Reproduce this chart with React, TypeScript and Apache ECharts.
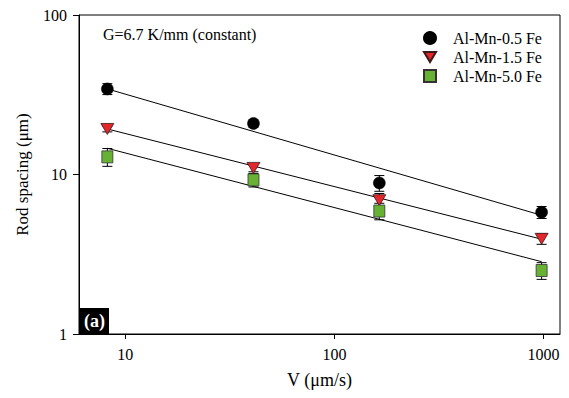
import React, { useEffect, useRef } from "react";
import * as echarts from "echarts";

const velocity = [8.2, 41, 164, 980];
const spacing05 = [34.4, 20.9, 8.85, 5.8];
const err05 = [2.7, 1.1, 1.0, 0.5];
const spacing15 = [19.3, 11.0, 6.9, 3.95];
const err15 = [0.8, 0.6, 0.7, 0.3];
const spacing50 = [12.9, 9.25, 5.9, 2.5];
const err50 = [1.65, 0.9, 0.7, 0.3];

const fitV = [8.2, 980];
const fit05 = [34.4, 5.55];
const fit15 = [19.3, 3.93];
const fit50 = [14.6, 2.84];

const seriesNames = ["Al-Mn-0.5 Fe", "Al-Mn-1.5 Fe", "Al-Mn-5.0 Fe"];
const xTicks = [10, 100, 1000];

const FONT = "serif";

function pairs(xs: number[], ys: number[]) {
  return xs.map((x, i) => [x, ys[i]]);
}
function errData(xs: number[], ys: number[], es: number[]) {
  return xs.map((x, i) => [x, ys[i] - es[i], ys[i] + es[i]]);
}

const errorRender = (params: any, api: any) => {
  const x = api.value(0);
  const lo = api.coord([x, api.value(1)]);
  const hi = api.coord([x, api.value(2)]);
  const w = 5;
  const st = { stroke: "#000", lineWidth: 1 };
  return {
    type: "group",
    children: [
      { type: "line", shape: { x1: lo[0], y1: lo[1], x2: hi[0], y2: hi[1] }, style: st },
      { type: "line", shape: { x1: lo[0] - w, y1: lo[1], x2: lo[0] + w, y2: lo[1] }, style: st },
      { type: "line", shape: { x1: hi[0] - w, y1: hi[1], x2: hi[0] + w, y2: hi[1] }, style: st },
    ],
  };
};

const triDown = "path://M0,0 L12,0 L6,10 Z";

export default function App() {
  const ref = useRef<HTMLDivElement>(null);
  useEffect(() => {
    document.body.style.margin = "0";
    const chart = echarts.init(ref.current!, null, { renderer: "svg" });
    const lineStyle = { color: "#000", width: 1 };
    chart.setOption({
      animation: false,
      backgroundColor: "#fff",
      textStyle: { fontFamily: FONT },
      grid: {
        left: 79,
        top: 15,
        right: 9,
        bottom: 64,
        show: true,
        borderColor: "#000",
        borderWidth: 1,
      },
      legend: {
        orient: "vertical",
        left: 418,
        top: 25,
        itemWidth: 12,
        itemHeight: 12,
        itemGap: 3,
        data: [
          { name: seriesNames[0], icon: "circle" },
          { name: seriesNames[1], icon: triDown },
          { name: seriesNames[2], icon: "rect" },
        ],
        textStyle: {
          fontFamily: FONT,
          fontSize: 16,
          color: "#000",
          lineHeight: 16,
          padding: [0, 0, 0, 12],
        },
      },
      xAxis: {
        type: "log",
        logBase: 10,
        min: 6,
        max: 1200,
        name: "V (μm/s)",
        nameLocation: "middle",
        nameGap: 37,
        nameTextStyle: { fontFamily: FONT, fontSize: 18, color: "#000" },
        axisLine: { show: true, lineStyle: { color: "#000", width: 1 } },
        axisTick: { show: true, length: 5, customValues: xTicks, lineStyle: { color: "#000" } },
        axisLabel: {
          customValues: xTicks,
          fontFamily: FONT,
          fontSize: 16,
          color: "#000",
          margin: 12,
          formatter: (v: number) => String(Math.round(v)),
        },
        splitLine: { show: false },
        minorTick: { show: false },
      },
      yAxis: {
        type: "log",
        logBase: 10,
        min: 1,
        max: 100,
        name: "Rod spacing (μm)",
        nameLocation: "middle",
        nameGap: 48,
        nameTextStyle: { fontFamily: FONT, fontSize: 17, color: "#000" },
        axisLine: { show: true, lineStyle: { color: "#000", width: 1 } },
        axisTick: { show: true, length: 6, lineStyle: { color: "#000" } },
        axisLabel: {
          fontFamily: FONT,
          fontSize: 16,
          color: "#000",
          margin: 12,
          formatter: (v: number) => String(Math.round(v)),
        },
        splitLine: { show: false },
      },
      graphic: [
        {
          type: "text",
          left: 103,
          top: 26,
          style: { text: "G=6.7 K/mm (constant)", fontFamily: FONT, fontSize: 16, fill: "#000" },
        },
        {
          type: "group",
          left: 80,
          top: 308,
          children: [
            { type: "rect", shape: { x: 0, y: 0, width: 29, height: 26 }, style: { fill: "#000" } },
            {
              type: "text",
              x: 14.5,
              y: 13,
              style: {
                text: "(a)",
                fontFamily: FONT,
                fontSize: 18,
                fontWeight: "bold",
                fill: "#fff",
                align: "center",
                verticalAlign: "middle",
              },
            },
          ],
        },
      ],
      series: [
        { type: "line", data: pairs(fitV, fit05), symbol: "none", lineStyle, silent: true, z: 1 },
        { type: "line", data: pairs(fitV, fit15), symbol: "none", lineStyle, silent: true, z: 1 },
        { type: "line", data: pairs(fitV, fit50), symbol: "none", lineStyle, silent: true, z: 1 },
        { type: "custom", renderItem: errorRender, data: errData(velocity, spacing05, err05), encode: { x: 0, y: [1, 2] }, z: 2 },
        { type: "custom", renderItem: errorRender, data: errData(velocity, spacing15, err15), encode: { x: 0, y: [1, 2] }, z: 2 },
        { type: "custom", renderItem: errorRender, data: errData(velocity, spacing50, err50), encode: { x: 0, y: [1, 2] }, z: 2 },
        {
          name: seriesNames[0],
          type: "scatter",
          data: pairs(velocity, spacing05),
          symbol: "circle",
          symbolSize: 12,
          itemStyle: { color: "#000", borderColor: "#000", borderWidth: 0.5, opacity: 1 },
          z: 3,
        },
        {
          name: seriesNames[1],
          type: "scatter",
          data: pairs(velocity, spacing15),
          symbol: triDown,
          symbolSize: [13, 11],
          itemStyle: { color: "#e3262a", borderColor: "#3a1a1a", borderWidth: 0.8, opacity: 1 },
          z: 3,
        },
        {
          name: seriesNames[2],
          type: "scatter",
          data: pairs(velocity, spacing50),
          symbol: "rect",
          symbolSize: [11, 12],
          itemStyle: { color: "#67b234", borderColor: "#333", borderWidth: 0.8, opacity: 1 },
          z: 3,
        },
      ],
    });
    return () => chart.dispose();
  }, []);
  return <div ref={ref} style={{ width: 569, height: 398 }} />;
}
